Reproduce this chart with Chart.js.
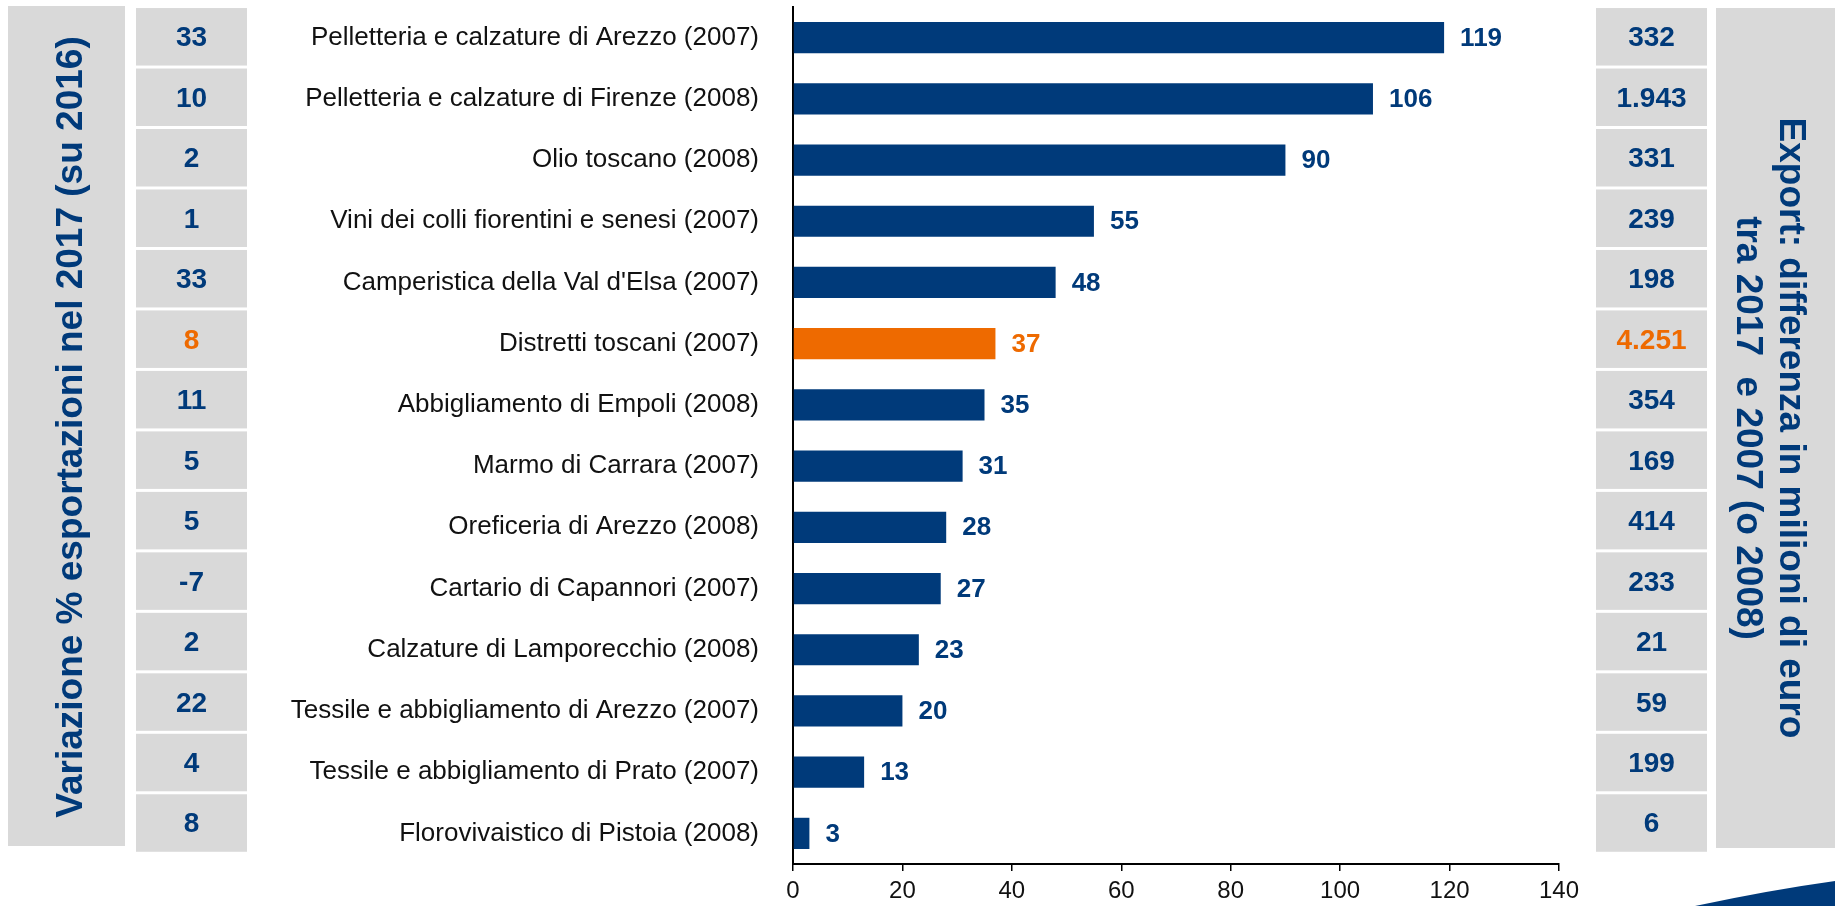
<!DOCTYPE html>
<html>
<head>
<meta charset="utf-8">
<script src="https://cdn.jsdelivr.net/npm/chart.js@4"></script>
<style>
  body { margin: 0; background: #fff; }
  canvas { display: block; }
</style>
</head>
<body>
<canvas id="myChart" width="1835" height="906"></canvas>
<script>
const BLUE = '#003A7A';
const ORANGE = '#EE6A00';
const GREY = '#D9D9D9';
const FONT = '"Liberation Sans", Arial, sans-serif';

const categories = [
  'Pelletteria e calzature di Arezzo (2007)',
  'Pelletteria e calzature di Firenze (2008)',
  'Olio toscano (2008)',
  'Vini dei colli fiorentini e senesi (2007)',
  "Camperistica della Val d'Elsa (2007)",
  'Distretti toscani (2007)',
  'Abbigliamento di Empoli (2008)',
  'Marmo di Carrara (2007)',
  'Oreficeria di Arezzo (2008)',
  'Cartario di Capannori (2007)',
  'Calzature di Lamporecchio (2008)',
  'Tessile e abbigliamento di Arezzo (2007)',
  'Tessile e abbigliamento di Prato (2007)',
  'Florovivaistico di Pistoia (2008)'
];
// crescita % export (barre)
const growth = [119, 106, 90, 55, 48, 37, 35, 31, 28, 27, 23, 20, 13, 3];
// variazione % 2017 su 2016 (colonna sinistra)
const change2017 = [33, 10, 2, 1, 33, 8, 11, 5, 5, -7, 2, 22, 4, 8];
// differenza export in milioni di euro (colonna destra)
const exportDiff = [332, 1943, 331, 239, 198, 4251, 354, 169, 414, 233, 21, 59, 199, 6];
const highlight = 'Distretti toscani (2007)';
const xTicks = [0, 20, 40, 60, 80, 100, 120, 140];

const leftTitle = 'Variazione % esportazioni nel 2017 (su 2016)';
const rightTitle = ['Export: differenza in milioni di euro', 'tra 2017  e 2007 (o 2008)'];

function fmt(n) {
  return String(n).replace(/\B(?=(\d{3})+(?!\d))/g, '.');
}
const colorFor = (i) => categories[i] === highlight ? ORANGE : BLUE;

const valueLabels = {
  id: 'valueLabels',
  afterDatasetsDraw(chart) {
    const ctx = chart.ctx;
    const meta = chart.getDatasetMeta(0);
    ctx.save();
    ctx.font = 'bold 26px ' + FONT;
    ctx.textAlign = 'left';
    ctx.textBaseline = 'middle';
    meta.data.forEach((bar, i) => {
      ctx.fillStyle = colorFor(i);
      ctx.fillText(String(growth[i]), bar.x + 16, bar.y + 1);
    });
    ctx.restore();
  }
};

const sidePanels = {
  id: 'sidePanels',
  afterDraw(chart) {
    const ctx = chart.ctx;
    const y = chart.scales.y;
    ctx.save();

    // big title boxes
    ctx.fillStyle = GREY;
    ctx.fillRect(8, 6, 117, 840);
    ctx.fillRect(1716, 8, 119, 840);

    // cells
    categories.forEach((c, i) => {
      const cy = 6.3 + (y.getPixelForValue(i) - y.top) * 0.988;
      ctx.fillStyle = GREY;
      ctx.fillRect(136, cy - 28.5, 111, 57.5);
      ctx.fillRect(1596, cy - 28.5, 111, 57.5);
      ctx.fillStyle = colorFor(i);
      ctx.font = 'bold 28px ' + FONT;
      ctx.textAlign = 'center';
      ctx.textBaseline = 'middle';
      ctx.fillText(String(change2017[i]), 191.5, cy + 2);
      ctx.fillText(fmt(exportDiff[i]), 1651.5, cy + 2);
    });

    // titles
    ctx.fillStyle = BLUE;
    ctx.font = 'bold 37px ' + FONT;
    ctx.textAlign = 'center';
    ctx.textBaseline = 'alphabetic';
    ctx.save();
    ctx.translate(82, 427);
    ctx.rotate(-Math.PI / 2);
    ctx.fillText(leftTitle, 0, 0);
    ctx.restore();

    ctx.save();
    ctx.translate(1780, 428);
    ctx.rotate(Math.PI / 2);
    ctx.fillText(rightTitle[0], 0, 0);
    ctx.fillText(rightTitle[1], 0, 43);
    ctx.restore();

    // corner swoosh
    ctx.fillStyle = BLUE;
    ctx.beginPath();
    ctx.moveTo(1695, 906);
    ctx.quadraticCurveTo(1770, 890, 1835, 881);
    ctx.lineTo(1835, 906);
    ctx.closePath();
    ctx.fill();
    ctx.restore();
  }
};

var ctx = document.getElementById('myChart').getContext('2d');

const graphData = {
  labels: categories,
  datasets: [{
    data: growth,
    backgroundColor: categories.map((c, i) => colorFor(i)),
    barPercentage: 0.51,
    categoryPercentage: 1
  }]
};

const config = {
  type: 'bar',
  data: graphData,
  options: {
    indexAxis: 'y',
    responsive: false,
    animation: false,
    layout: { padding: { top: 7, right: 276, left: 0, bottom: 0 } },
    plugins: {
      legend: { display: false },
      tooltip: { enabled: false }
    },
    scales: {
      x: {
        min: 0,
        max: 140,
        afterBuildTicks: (scale) => { scale.ticks = xTicks.map(v => ({ value: v })); },
        afterFit: (scale) => { scale.height = 42; },
        grid: { drawOnChartArea: false, drawTicks: true, tickLength: 7, color: '#000', lineWidth: 1.5 },
        border: { color: '#000', width: 2 },
        ticks: { color: '#111', padding: 6, font: { family: FONT, size: 24 } }
      },
      y: {
        afterFit: (scale) => {
          scale.width = 793;
          scale.paddingTop = 0;
          scale.paddingBottom = 0;
        },
        grid: { display: false },
        border: { display: true, color: '#000', width: 2 },
        ticks: { color: '#111', padding: 26, font: { family: FONT, size: 26 } }
      }
    }
  },
  plugins: [valueLabels, sidePanels]
};

var myChart = new Chart(ctx, config);
</script>
</body>
</html>
